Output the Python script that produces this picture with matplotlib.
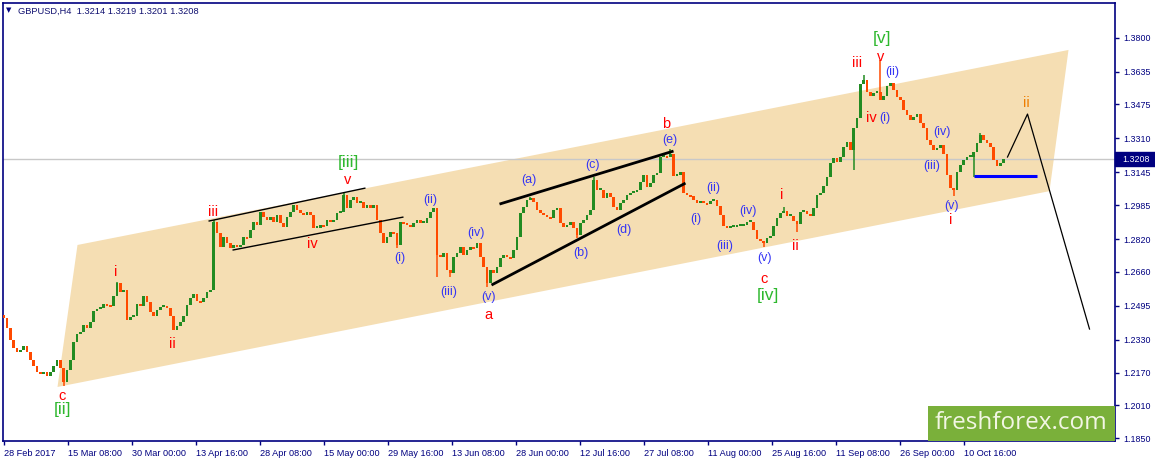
import numpy as np
import matplotlib
matplotlib.use("Agg")
import matplotlib.pyplot as plt
from matplotlib.patches import Polygon, Rectangle
import matplotlib.transforms as mtransforms

plt.rcParams['font.family'] = ['Liberation Sans', 'DejaVu Sans']

# ---------------- data ----------------
symbol = "GBPUSD,H4"
last_ohlc = [1.3214, 1.3219, 1.3201, 1.3208]
current_price = 1.3208

first_open = 1.2450
closes = [
    1.2435, 1.2387, 1.2328, 1.2289, 1.2270, 1.2280, 1.2299, 1.2270, 1.2231, 1.2202,
    1.2173, 1.2163, 1.2173, 1.2153, 1.2173, 1.2202, 1.2231, 1.2192, 1.2124, 1.2182,
    1.2231, 1.2319, 1.2357, 1.2367, 1.2401, 1.2387, 1.2416, 1.2469, 1.2479, 1.2484,
    1.2503, 1.2499, 1.2494, 1.2542, 1.2606, 1.2562, 1.2572, 1.2426, 1.2440, 1.2445,
    1.2503, 1.2494, 1.2542, 1.2513, 1.2465, 1.2445, 1.2474, 1.2489, 1.2494, 1.2484,
    1.2445, 1.2377, 1.2396, 1.2416, 1.2445, 1.2499, 1.2533, 1.2552, 1.2518, 1.2513,
    1.2533, 1.2562, 1.2572, 1.2903, 1.2849, 1.2781, 1.2830, 1.2800, 1.2776, 1.2791,
    1.2781, 1.2791, 1.2830, 1.2825, 1.2864, 1.2903, 1.2888, 1.2951, 1.2927, 1.2912,
    1.2927, 1.2903, 1.2937, 1.2898, 1.2878, 1.2927, 1.2951, 1.2985, 1.2961, 1.2946,
    1.2937, 1.2951, 1.2937, 1.2873, 1.2873, 1.2888, 1.2883, 1.2912, 1.2903, 1.2912,
    1.2946, 1.2951, 1.3034, 1.2971, 1.3010, 1.3024, 1.2995, 1.3000, 1.2971, 1.2985,
    1.2971, 1.2985, 1.2912, 1.2849, 1.2800, 1.2830, 1.2854, 1.2849, 1.2791, 1.2903,
    1.2898, 1.2888, 1.2878, 1.2898, 1.2912, 1.2898, 1.2898, 1.2922, 1.2951, 1.2971,
    1.2742, 1.2732, 1.2752, 1.2669, 1.2654, 1.2732, 1.2752, 1.2781, 1.2742, 1.2766,
    1.2781, 1.2776, 1.2800, 1.2732, 1.2684, 1.2606, 1.2669, 1.2654, 1.2684, 1.2727,
    1.2742, 1.2732, 1.2727, 1.2766, 1.2830, 1.2946, 1.2976, 1.3010, 1.3019, 1.3000,
    1.2961, 1.2946, 1.2937, 1.2927, 1.2922, 1.2961, 1.2971, 1.2898, 1.2878, 1.2888,
    1.2903, 1.2873, 1.2839, 1.2898, 1.2912, 1.2937, 1.2961, 1.3107, 1.3058, 1.3058,
    1.3019, 1.3044, 1.3024, 1.2976, 1.2961, 1.2995, 1.3010, 1.3034, 1.3044, 1.3049,
    1.3058, 1.3097, 1.3131, 1.3073, 1.3092, 1.3131, 1.3141, 1.3219, 1.3224, 1.3219,
    1.3233, 1.3126, 1.3131, 1.3146, 1.3044, 1.3034, 1.3029, 1.3010, 1.2995, 1.3005,
    1.2995, 1.2990, 1.3005, 1.3010, 1.2980, 1.2937, 1.2883, 1.2873, 1.2878, 1.2878,
    1.2883, 1.2883, 1.2888, 1.2903, 1.2903, 1.2864, 1.2820, 1.2810, 1.2800, 1.2825,
    1.2834, 1.2883, 1.2922, 1.2946, 1.2956, 1.2932, 1.2932, 1.2907, 1.2893, 1.2951,
    1.2956, 1.2941, 1.2932, 1.2971, 1.3034, 1.3044, 1.3078, 1.3122, 1.3190, 1.3214,
    1.3195, 1.3219, 1.3268, 1.3292, 1.3253, 1.3360, 1.3409, 1.3574, 1.3594, 1.3535,
    1.3516, 1.3530, 1.3535, 1.3496, 1.3516, 1.3564, 1.3579, 1.3545, 1.3511, 1.3496,
    1.3448, 1.3423, 1.3399, 1.3414, 1.3428, 1.3384, 1.3360, 1.3302, 1.3277, 1.3253,
    1.3263, 1.3277, 1.3233, 1.3131, 1.3068, 1.3058, 1.3146, 1.3180, 1.3204, 1.3219,
    1.3219, 1.3243, 1.3287, 1.3326, 1.3302, 1.3287, 1.3268, 1.3204, 1.3175, 1.3190,
    1.3208,
]
wick_high = {34: 1.2611, 63: 1.2912, 102: 1.3049, 158: 1.3024, 177: 1.3122,
             200: 1.3258, 234: 1.2976, 258: 1.3618, 263: 1.3691, 293: 1.3336}
wick_low = {18: 1.2104, 118: 1.2776, 130: 1.2635, 134: 1.2635, 145: 1.2586,
            172: 1.2825, 228: 1.2781, 238: 1.2854, 255: 1.3156, 285: 1.3029,
            291: 1.3122}

first_bar = 1.33
bar_step = 10 / 3

date_labels = ["28 Feb 2017", "15 Mar 08:00", "30 Mar 00:00", "13 Apr 16:00",
               "28 Apr 08:00", "15 May 00:00", "29 May 16:00", "13 Jun 08:00",
               "28 Jun 00:00", "12 Jul 16:00", "27 Jul 08:00", "11 Aug 00:00",
               "25 Aug 16:00", "11 Sep 08:00", "26 Sep 00:00", "10 Oct 16:00"]
date_tick_bars = [1, 65, 129, 193, 257, 321, 385, 449, 513, 577, 641, 705,
                  769, 833, 897, 961]
price_ticks = [1.3800, 1.3635, 1.3475, 1.3310, 1.3145, 1.2985, 1.2820,
               1.2660, 1.2495, 1.2330, 1.2170, 1.2010, 1.1850]

# channel (parallelogram)
channel_bars = [55, 75, 1066, 1047]
channel_prices = [1.2100, 1.2791, 1.3740, 1.3053]

# trend lines: (bar0, price0, bar1, price1, width, color)
trend_lines = [
    (206, 1.2907, 363, 1.3068, 1.0, 'black'),
    (230, 1.2766, 401, 1.2927, 1.0, 'black'),
    (497, 1.2990, 671, 1.3248, 2.0, 'black'),
    (489, 1.2596, 683, 1.3092, 2.0, 'black'),
    (971, 1.3128, 1034, 1.3128, 2.2, '#0000FF'),
]
forecast_bars = [1005, 1025, 1087]
forecast_prices = [1.3219, 1.3428, 1.2382]

# wave labels
label_text = ["c", "[ii]", "i", "ii", "iii", "iv", "v", "[iii]",
              "(i)", "(ii)", "(iii)", "(iv)", "(v)", "a",
              "(a)", "(b)", "(c)", "(d)", "(e)", "b",
              "(i)", "(ii)", "(iii)", "(iv)", "(v)", "c", "[iv]",
              "i", "ii", "iii", "v", "[v]", "(ii)", "iv", "(i)",
              "(iv)", "(iii)", "(v)", "i", "ii"]
label_bar = [60, 60, 113, 170, 211, 310, 345, 346,
             397, 428, 446, 473, 486, 486,
             526, 578, 590, 621, 667, 664,
             693, 711, 722, 745, 762, 762, 765,
             779, 793, 855, 878, 880, 890, 869, 882,
             939, 929, 949, 948, 1024]
label_price = [1.2056, 1.1988, 1.2659, 1.2309, 1.2951, 1.2795, 1.3107, 1.3190,
               1.2727, 1.3010, 1.2562, 1.2849, 1.2538, 1.2450,
               1.3107, 1.2752, 1.3180, 1.2864, 1.3302, 1.3379,
               1.2917, 1.3068, 1.2786, 1.2956, 1.2727, 1.2625, 1.2547,
               1.3034, 1.2786, 1.3676, 1.3706, 1.3798, 1.3633, 1.3409, 1.3409,
               1.3341, 1.3175, 1.2980, 1.2912, 1.3482]
label_kind = ["minor", "major", "minor", "minor", "minor", "minor", "minor", "major",
              "sub", "sub", "sub", "sub", "sub", "minor",
              "sub", "sub", "sub", "sub", "sub", "minor",
              "sub", "sub", "sub", "sub", "sub", "minor", "major",
              "minor", "minor", "minor", "minor", "major", "sub", "minor", "sub",
              "sub", "sub", "sub", "minor", "next"]

# ---------------- styles ----------------
NAVY = '#000080'
UP = '#228B22'
DOWN = '#FF4A00'
kind_style = {
    "minor": dict(color='#FF0000', fontsize=10.5),
    "sub": dict(color='#3535F5', fontsize=9),
    "major": dict(color='#2EB82E', fontsize=12.5),
    "next": dict(color='#EE7D00', fontsize=10.5),
}

W, H = 1155, 462
fig = plt.figure(figsize=(W / 100, H / 100), dpi=100)
fig.patch.set_facecolor('white')
ax_left, ax_right, ax_top, ax_bottom = 2.5, 1115, 2.5, 441
ax = fig.add_axes([ax_left / W, (H - ax_bottom) / H,
                   (ax_right - ax_left) / W, (ax_bottom - ax_top) / H])
ax.set_xlim(0, ax_right - ax_left)
ax.set_ylim(1.1837, 1.3971)
ax.set_facecolor('white')

# channel
ax.add_patch(Polygon(list(zip(channel_bars, channel_prices)), closed=True,
                     facecolor='#F5DEB3', edgecolor='none', zorder=1))

# current price line
ax.axhline(current_price, color='#C8C8C8', lw=1.0, zorder=2)

# candles
closes_arr = np.array(closes)
opens_arr = np.concatenate([[first_open], closes_arr[:-1]])
xs = first_bar + np.arange(len(closes_arr)) * bar_step
heights = closes_arr - opens_arr
min_h = 0.0008
heights = np.where(np.abs(heights) < min_h, np.where(heights >= 0, min_h, -min_h), heights)
colors = np.where(closes_arr >= opens_arr, UP, DOWN)
ax.bar(xs, heights, bottom=opens_arr, width=bar_step * 0.8, color=colors,
       linewidth=0, zorder=3)
for i, hi in wick_high.items():
    ax.vlines(xs[i], max(opens_arr[i], closes_arr[i]), hi, color=colors[i], lw=1.1, zorder=3)
for i, lo in wick_low.items():
    ax.vlines(xs[i], lo, min(opens_arr[i], closes_arr[i]), color=colors[i], lw=1.1, zorder=3)

# trend lines
for b0, p0, b1, p1, lw, c in trend_lines:
    ax.plot([b0, b1], [p0, p1], color=c, lw=lw, zorder=4, solid_capstyle='butt')
ax.plot(forecast_bars, forecast_prices, color='black', lw=0.9, zorder=4)

# wave labels
for t, b, p, k in zip(label_text, label_bar, label_price, label_kind):
    ax.text(b, p, t, ha='center', va='center', zorder=5, **kind_style[k])

# axes styling
for s in ax.spines.values():
    s.set_color(NAVY)
    s.set_linewidth(1.2)
ax.yaxis.tick_right()
ax.set_yticks(price_ticks)
ax.set_yticklabels([f"{v:.4f}" for v in price_ticks])
ax.set_xticks(date_tick_bars)
ax.set_xticklabels(date_labels, ha='left')
ax.tick_params(axis='x', direction='out', length=3, width=1, color=NAVY,
               labelcolor=NAVY, labelsize=6.6, pad=2.5)
ax.tick_params(axis='y', direction='out', length=3, width=1, color=NAVY,
               labelcolor=NAVY, labelsize=6.4, pad=3)

# current price box
blend = mtransforms.blended_transform_factory(ax.transAxes, ax.transData)
ax.add_patch(Rectangle((1.0, current_price - 0.0034), 0.037, 0.0068,
                       transform=blend, facecolor=NAVY, edgecolor=NAVY,
                       clip_on=False, zorder=6))
ax.text(1.0065, current_price, f"{current_price:.4f}", transform=blend,
        color='white', fontsize=6.4, ha='left', va='center', clip_on=False, zorder=7)

# title
fig.text(9 / W, 1 - 10.5 / H, '\u25BC', fontsize=5, color=NAVY, ha='center', va='center',
         family=['DejaVu Sans'])
fig.text(18 / W, 1 - 11 / H,
         symbol + "  " + " ".join(f"{v:.4f}" for v in last_ohlc),
         fontsize=6.7, color='#101070', ha='left', va='center')

# watermark
fig.patches.append(Rectangle((928 / W, (H - 441) / H), 187 / W, 35 / H,
                             transform=fig.transFigure, facecolor='#7AB03A',
                             edgecolor='none', zorder=10))
fig.text(1021 / W, 1 - 423 / H, "freshforex.com", fontsize=17.5, color='#F2F6E4',
         ha='center', va='center', family=['Open Sans', 'DejaVu Sans'], zorder=11)

fig.savefig("out.png", dpi=100, facecolor='white')
